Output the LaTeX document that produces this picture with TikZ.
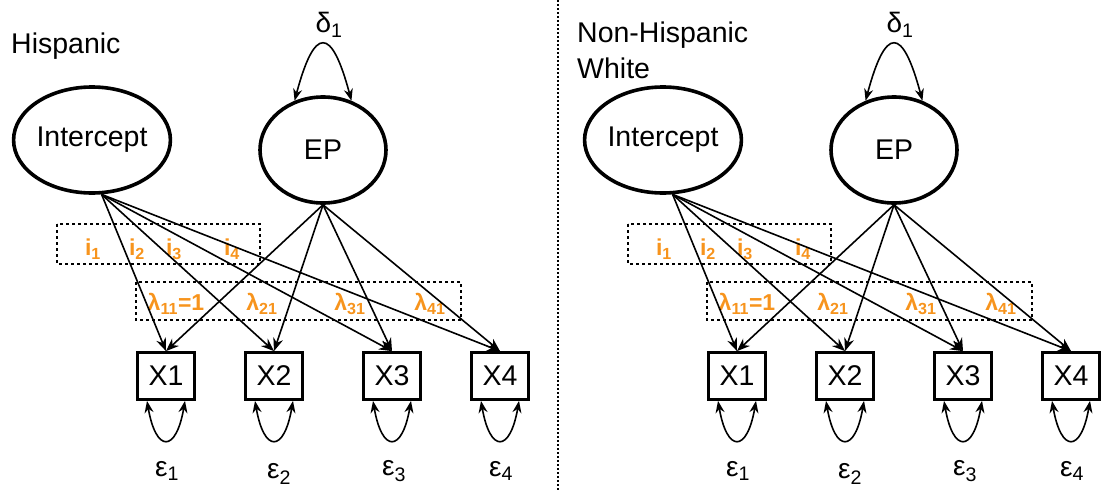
\documentclass[tikz,border=0pt]{standalone}
\usepackage{fontspec}
\setmainfont{Liberation Sans}
\usetikzlibrary{shapes.geometric,arrows.meta}
\definecolor{coeforange}{RGB}{247,148,29}

\begin{document}
\begin{tikzpicture}[x=1pt,y=-1pt,
  latent/.style={draw,ellipse,line width=3.6pt,minimum width=126pt,minimum height=106pt,inner sep=0pt,font=\fontsize{28.5}{34}\selectfont},
  manifest/.style={draw,rectangle,line width=2.8pt,minimum width=57pt,minimum height=47pt,inner sep=0pt,font=\fontsize{28.5}{34}\selectfont},
  grptitle/.style={font=\fontsize{28.5}{35.5}\selectfont,inner sep=0pt},
  resid/.style={font=\fontsize{28}{32}\selectfont,inner sep=0pt},
  coef/.style={text=coeforange,font=\fontsize{23}{26}\selectfont\bfseries,inner sep=0pt},
  regr/.style={line width=1.6pt,-{Stealth[length=13pt,width=10pt]}},
  varloop/.style={line width=1.6pt,{Stealth[length=12pt,width=9pt]}-{Stealth[length=12pt,width=9pt]}},
  grpbox/.style={line width=2.4pt,dash pattern=on 3pt off 3pt}]
  \useasboundingbox (0,0) rectangle (1105,490);

  % group titles and divider
  \node[grptitle,anchor=base west] (hisp) at (11,53) {Hispanic};
  \node[grptitle,anchor=base west,align=left] (nhw) at (577,78) {Non-Hispanic\\White};
  \draw[line width=1.5pt,dash pattern=on 2pt off 2pt] (558,0) -- (558,490);

  % same model in both groups
  \foreach \dx in {0,571}{
  \begin{scope}[xshift=\dx pt]
    \node[latent] (icpt) at (92,140) {Intercept};
    \node[latent] (ep) at (323,150) {EP};
    \node[resid] (d1) at (329,25) {δ\textsubscript{1}};

    \node[manifest] (x1) at (166,376) {X1};
    \node[manifest] (x2) at (274,376) {X2};
    \node[manifest] (x3) at (392,376) {X3};
    \node[manifest] (x4) at (500,376) {X4};

    \node[resid] (e1) at (167,471) {ε\textsubscript{1}};
    \node[resid] (e2) at (279,474) {ε\textsubscript{2}};
    \node[resid] (e3) at (394,471) {ε\textsubscript{3}};
    \node[resid] (e4) at (501,471) {ε\textsubscript{4}};

    \draw[grpbox] (57,224) rectangle (260,264);
    \draw[grpbox] (136,282) rectangle (461,320);

    \node[coef] (i1) at (93,249) {i\textsubscript{1}};
    \node[coef] (i2) at (137,249) {i\textsubscript{2}};
    \node[coef] (i3) at (174,249) {i\textsubscript{3}};
    \node[coef] (i4) at (232,249) {i\textsubscript{4}};
    \node[coef] (l11) at (176,304) {λ\textsubscript{11}=1};
    \node[coef] (l21) at (262,304) {λ\textsubscript{21}};
    \node[coef] (l31) at (350,304) {λ\textsubscript{31}};
    \node[coef] (l41) at (430,304) {λ\textsubscript{41}};

    \foreach \x in {x1,x2,x3,x4}{
      \draw[regr] (icpt.-80) -- (\x.north);
      \draw[regr] (ep.south) -- (\x.north);
      \draw[varloop] ([xshift=-19pt]\x.south) .. controls +(9,52) and +(-9,52) .. ([xshift=19pt]\x.south);
    }
    \draw[varloop] (ep.120) .. controls +(20,-75) and +(-20,-75) .. (ep.60);
  \end{scope}}
\end{tikzpicture}
\end{document}
